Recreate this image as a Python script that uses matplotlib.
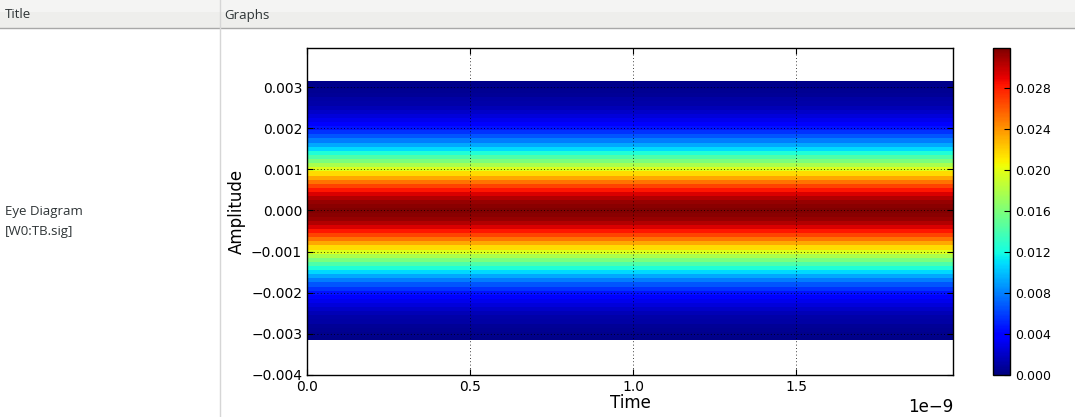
import matplotlib
matplotlib.use('Agg')
import matplotlib.pyplot as plt
import numpy as np
from matplotlib.patches import Rectangle
from matplotlib.lines import Line2D
from matplotlib.ticker import FormatStrFormatter, FuncFormatter, MultipleLocator

# eye diagram histogram: one density value per amplitude row (rows 0.0001 wide)
amp_centers = [-3.1, -3.0, -2.9, -2.8, -2.7, -2.6, -2.5, -2.4, -2.3, -2.2, -2.1,
               -2.0, -1.9, -1.8, -1.7, -1.6, -1.5, -1.4, -1.3, -1.2, -1.1,
               -1.0, -0.9, -0.8, -0.7, -0.6, -0.5, -0.4, -0.3, -0.2, -0.1,
               0.0, 0.1, 0.2, 0.3, 0.4, 0.5, 0.6, 0.7, 0.8, 0.9,
               1.0, 1.1, 1.2, 1.3, 1.4, 1.5, 1.6, 1.7, 1.8, 1.9,
               2.0, 2.1, 2.2, 2.3, 2.4, 2.5, 2.6, 2.7, 2.8, 2.9, 3.0, 3.1]  # x 1e-3
density = [0.0003, 0.0004, 0.0006, 0.0007, 0.0010, 0.0012, 0.0016, 0.0020, 0.0025, 0.0031, 0.0038,
           0.0046, 0.0056, 0.0067, 0.0079, 0.0093, 0.0108, 0.0124, 0.0141, 0.0159, 0.0178,
           0.0197, 0.0216, 0.0234, 0.0251, 0.0267, 0.0282, 0.0294, 0.0305, 0.0312, 0.0316,
           0.0318, 0.0316, 0.0312, 0.0305, 0.0294, 0.0282, 0.0267, 0.0251, 0.0234, 0.0216,
           0.0197, 0.0178, 0.0159, 0.0141, 0.0124, 0.0108, 0.0093, 0.0079, 0.0067, 0.0056,
           0.0046, 0.0038, 0.0031, 0.0025, 0.0020, 0.0016, 0.0012, 0.0010, 0.0007, 0.0006, 0.0004, 0.0003]
time_span = [0.0, 1.98e-9]
vmax = 0.0319

plt.rcParams['xtick.direction'] = 'in'
plt.rcParams['ytick.direction'] = 'in'
plt.rcParams['xtick.top'] = True
plt.rcParams['ytick.right'] = True

fig = plt.figure(figsize=(10.75, 4.17), dpi=100)
W, H = 1075.0, 417.0

# table chrome
fig.add_artist(Rectangle((0, 1 - 28 / H), 1, 28 / H, transform=fig.transFigure,
                         facecolor='#eeeeec', edgecolor='none'))
fig.add_artist(Rectangle((0, 1 - 12 / H), 1, 12 / H, transform=fig.transFigure,
                         facecolor='#f4f4f3', edgecolor='none'))
fig.add_artist(Line2D([0, 1], [1 - 28 / H, 1 - 28 / H], transform=fig.transFigure,
                      color='#a8a8a8', lw=1))
fig.add_artist(Line2D([220 / W, 220 / W], [0, 1], transform=fig.transFigure,
                      color='#d6d6d6', lw=1))
ui = dict(family='Open Sans', fontsize=9.5, color='#2e3436', va='center')
fig.text(5 / W, 1 - 15 / H, 'Title', **ui)
fig.text(224 / W, 1 - 15 / H, 'Graphs', **ui)
fig.text(5 / W, 1 - 212 / H, 'Eye Diagram', **ui)
fig.text(5 / W, 1 - 232 / H, '[W0:TB.sig]', **ui)

ax = fig.add_axes([307 / W, 1 - 375 / H, (953 - 307) / W, (375 - 48) / H])
cax = fig.add_axes([993 / W, 1 - 375 / H, 17 / W, (375 - 48) / H])

yc = np.array(amp_centers) * 1e-3
yedges = np.concatenate([yc - 0.00005, [yc[-1] + 0.00005]])
vals = np.array(density).reshape(-1, 1)
mesh = ax.pcolormesh(time_span, yedges, vals, cmap='jet', vmin=0, vmax=vmax)

ax.set_xlim(time_span)
ax.set_ylim(-0.004, 0.00395)
ax.yaxis.set_major_locator(MultipleLocator(0.001))
ax.xaxis.set_major_locator(MultipleLocator(0.5e-9))
ax.yaxis.set_major_formatter(FuncFormatter(lambda v, p: ('%.3f' % v).replace('-', '\u2212')))
ax.grid(True, linestyle=(0, (1, 3)), color='black', linewidth=0.6)
ax.set_axisbelow(False)
ax.tick_params(labelsize=10, length=4)
ax.xaxis.get_offset_text().set_fontsize(12)
ax.set_xlabel('Time', fontsize=12, labelpad=0)
ax.set_ylabel('Amplitude', fontsize=12, labelpad=4)
for s in ax.spines.values():
    s.set_linewidth(1.0)

cb = fig.colorbar(mesh, cax=cax)
cb.set_ticks([0.000, 0.004, 0.008, 0.012, 0.016, 0.020, 0.024, 0.028])
cb.ax.yaxis.set_major_formatter(FormatStrFormatter('%.3f'))
cb.ax.tick_params(labelsize=9, direction='in', length=4, right=True, left=False)
cb.outline.set_linewidth(1.0)

fig.savefig('out.png', dpi=100)
